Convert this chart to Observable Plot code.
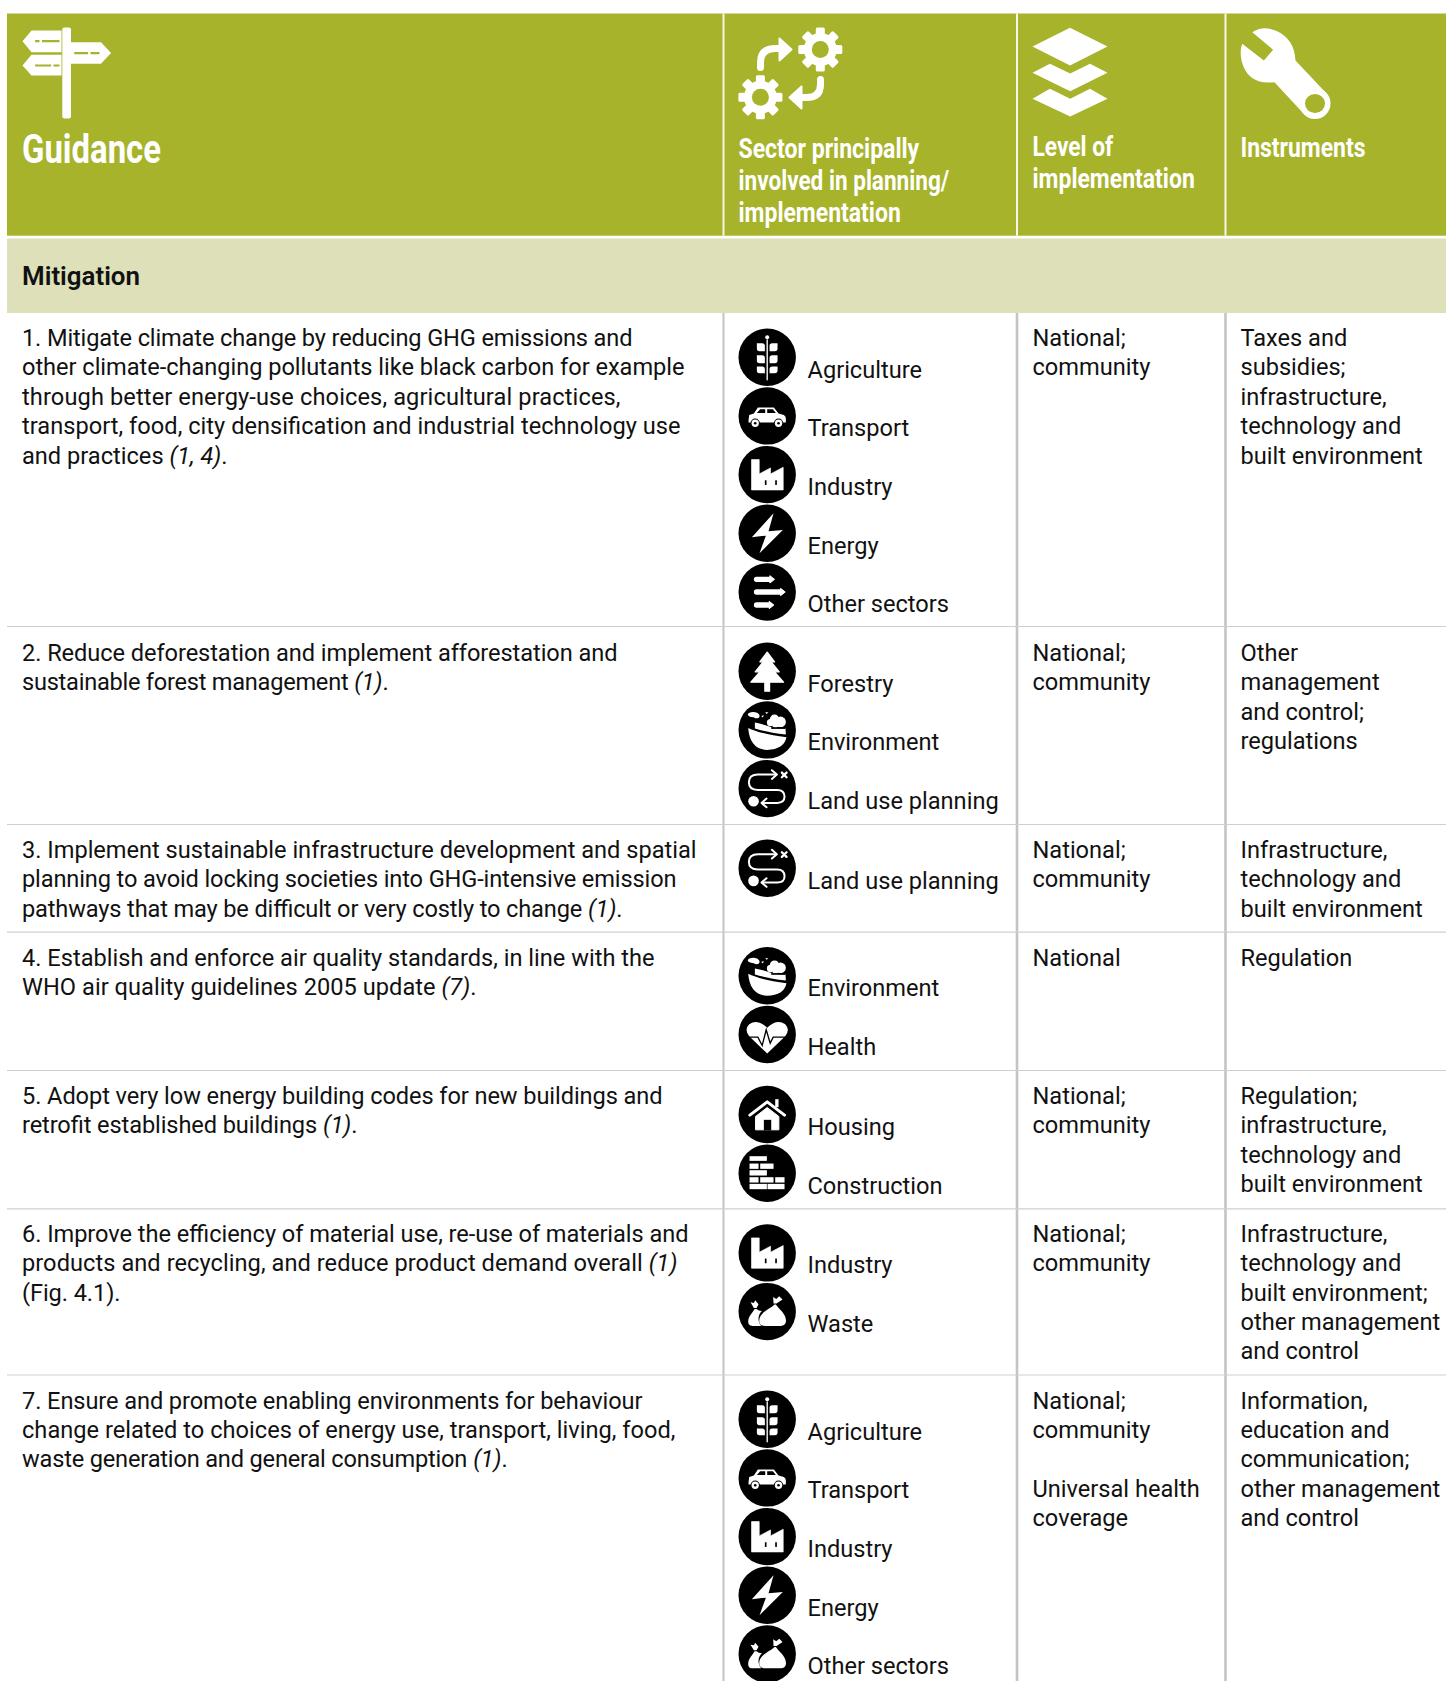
<!DOCTYPE html>
<html lang="en">
<head>
<meta charset="utf-8">
<title>Guidance: Mitigation</title>
<script src="https://cdn.jsdelivr.net/npm/d3@7"></script>
<script src="https://cdn.jsdelivr.net/npm/@observablehq/plot@0.6"></script>
<style>
html,body{margin:0;padding:0;background:#fff}
svg{display:block}
</style>
</head>
<body>
<div id="chart"></div>
<script>
// ---------- Table content ----------
const sectionTitle = "Mitigation";
const headerGuidance = ["Guidance"];
const headerSector = ["Sector principally", "involved in planning/", "implementation"];
const headerLevel = ["Level of", "implementation"];
const headerInstruments = ["Instruments"];

// *...* marks the italic citation inside a line
const guidance = [
  ["1. Mitigate climate change by reducing GHG emissions and",
   "other climate-changing pollutants like black carbon for example",
   "through better energy-use choices, agricultural practices,",
   "transport, food, city densification and industrial technology use",
   "and practices *(1, 4)*."],
  ["2. Reduce deforestation and implement afforestation and",
   "sustainable forest management *(1)*."],
  ["3. Implement sustainable infrastructure development and spatial",
   "planning to avoid locking societies into GHG-intensive emission",
   "pathways that may be difficult or very costly to change *(1)*."],
  ["4. Establish and enforce air quality standards, in line with the",
   "WHO air quality guidelines 2005 update *(7)*."],
  ["5. Adopt very low energy building codes for new buildings and",
   "retrofit established buildings *(1)*."],
  ["6. Improve the efficiency of material use, re-use of materials and",
   "products and recycling, and reduce product demand overall *(1)*",
   "(Fig. 4.1)."],
  ["7. Ensure and promote enabling environments for behaviour",
   "change related to choices of energy use, transport, living, food,",
   "waste generation and general consumption *(1)*."]
];
const sectors = [
  ["Agriculture", "Transport", "Industry", "Energy", "Other sectors"],
  ["Forestry", "Environment", "Land use planning"],
  ["Land use planning"],
  ["Environment", "Health"],
  ["Housing", "Construction"],
  ["Industry", "Waste"],
  ["Agriculture", "Transport", "Industry", "Energy", "Other sectors"]
];
const sectorIcons = [
  ["agriculture", "transport", "industry", "energy", "other"],
  ["forestry", "environment", "landuse"],
  ["landuse"],
  ["environment", "health"],
  ["housing", "construction"],
  ["industry", "waste"],
  ["agriculture", "transport", "industry", "energy", "waste"]
];
const levels = [
  ["National;", "community"],
  ["National;", "community"],
  ["National;", "community"],
  ["National"],
  ["National;", "community"],
  ["National;", "community"],
  ["National;", "community", "", "Universal health", "coverage"]
];
const instruments = [
  ["Taxes and", "subsidies;", "infrastructure,", "technology and", "built environment"],
  ["Other", "management", "and control;", "regulations"],
  ["Infrastructure,", "technology and", "built environment"],
  ["Regulation"],
  ["Regulation;", "infrastructure,", "technology and", "built environment"],
  ["Infrastructure,", "technology and", "built environment;", "other management", "and control"],
  ["Information,", "education and", "communication;", "other management", "and control"]
];

// ---------- Layout ----------
const W = 1446, H = 1681;
const left = 7;
const colEdges = [723, 1016.5, 1225];
const textX = [21.5, 738, 1032, 1240];
const headerTop = 13.5, headerBottom = 235.7, bandTop = 238.5, bandBottom = 313;
const rowTops = [313, 626, 824, 931.7, 1070, 1208.3, 1374.5];
const lineHeight = 29.35;
const rowBaselines = [345.6, 660.4, 857.5, 965.4, 1103.4, 1241.5, 1408.2];
const iconFirst = [356.7, 670.7, 867.7, 975.3, 1114, 1252.4, 1418.7];
const iconStep = 58.7, labelDrop = 20.3, labelX = 807, iconX = 766.7, iconR = 28.7;
// right-hand end of each guidance line, for fitting the substitute typeface to the original measure
const guidanceEnds = [
  [632, 684, 620, 680, 227],
  [617, 388],
  [696, 676, 622],
  [654, 476],
  [662, 357],
  [688, 677, 120],
  [642, 675, 507]
];
const headerWidths = [180.7, 210.7, 162.3, 80.7, 162.3, 125];
const olive = "#a7b32a", band = "#dde0b8", ink = "#111";
const bodyFont = "Roboto", bodySize = 23.6;
const headFont = "Roboto";

// ---------- Flatten table into mark data ----------
const measure = document.createElement("canvas").getContext("2d");
function widthOf(str, italic) {
  measure.font = `${italic ? "italic " : ""}${bodySize}px ${bodyFont}`;
  return measure.measureText(str).width;
}
const bodyRegular = [], bodyItalic = [];
guidance.forEach((lines, r) => lines.forEach((line, i) => {
  const segs = line.split("*");
  const natural = d3.sum(segs, (s, k) => widthOf(s, k % 2 === 1));
  const fit = (guidanceEnds[r][i] - textX[0]) / natural;
  let x = textX[0];
  segs.forEach((seg, k) => {
    const italic = k % 2 === 1;
    const y = rowBaselines[r] + i * lineHeight;
    const text = seg.trimEnd();
    if (text) (italic ? bodyItalic : bodyRegular).push({x, y, text, len: text.length > 1 ? widthOf(text, italic) * fit : null});
    x += widthOf(seg, italic) * fit;
  });
}));
[[levels, textX[2]], [instruments, textX[3]]].forEach(([col, x]) =>
  col.forEach((lines, r) => lines.forEach((text, i) => {
    if (text) bodyRegular.push({x, y: rowBaselines[r] + i * lineHeight, text, len: null});
  })));
const sectorRows = sectors.flatMap((list, r) => list.map((label, i) => ({
  label, icon: sectorIcons[r][i],
  cy: iconFirst[r] + i * iconStep,
  ly: iconFirst[r] + i * iconStep + labelDrop
})));

// ---------- Pictograms ----------
const uri = (vb, inner) => "data:image/svg+xml;utf8," + encodeURIComponent(
  `<svg xmlns="http://www.w3.org/2000/svg" viewBox="${vb}">${inner}</svg>`);
const wl = `fill="none" stroke="#fff" stroke-linecap="round" stroke-linejoin="round"`;
const leaves = [[-42,-18],[-6,18],[28,48]].map(([t,b]) => {
  const leaf = `M-31 ${t}L-15 ${t}Q-7 ${t} -7 ${t+8}L-7 ${b}L-23 ${b}Q-31 ${b} -31 ${b-8}Z`;
  return `<path fill="#fff" d="${leaf}"/><path fill="#fff" transform="scale(-1,1)" d="${leaf}"/>`;
}).join("");
const arrow = (y, x1) => `<path ${wl} stroke-width="16" d="M-32 ${y}L${x1} ${y}"/><path fill="#fff" stroke="#fff" stroke-width="3" stroke-linejoin="round" d="M${x1} ${y-11}L${x1+14} ${y}L${x1} ${y+11}Z"/>`;
const bricks = [[-53,-51,52,14],[-53,-29,27,16],[-21,-29,40,16],[-53,-9,52,16],[-53,12,27,16],[-21,12,40,16],[24,12,28,16],[-53,32,52,16],[1,32,51,16]]
  .map(([x,y,w,h]) => `<rect x="${x}" y="${y}" width="${w}" height="${h}" fill="#fff"/>`).join("");
const icons = {
  agriculture: `<path ${wl} stroke-width="4" d="M0 -52L0 68"/><circle cy="-60" r="6" fill="#fff"/>${leaves}`,
  transport: `<path fill="#fff" d="M-56 12L-54 -3L-40 -7L-28 -25L20 -25L34 -7L50 -3Q56 0 56 8L56 20L-56 20Z"/>
    <path d="M-31 -9L-21 -20L-6 -20L-6 -9ZM0 -20L17 -20L26 -9L0 -9Z"/>
    <circle cx="-36" cy="22" r="14"/><circle cx="34" cy="22" r="14"/>
    <circle cx="-36" cy="22" r="11" fill="#fff"/><circle cx="34" cy="22" r="11" fill="#fff"/>
    <circle cx="-36" cy="22" r="4"/><circle cx="34" cy="22" r="4"/>`,
  industry: `<path fill="#fff" stroke="#fff" stroke-width="2" stroke-linejoin="round" d="M-47 -45L-24 -45L-24 -2L10 -20L10 -2L48 -22L48 46L-47 46Z"/>
    <rect x="-7" y="17" width="5" height="14"/><rect x="24" y="17" width="5" height="14"/>`,
  energy: `<path fill="#fff" d="M19 -60L-46 12L-4 7L-23 60L47 -10L4 -6Z"/>`,
  other: arrow(-38, 8) + arrow(0, 40) + arrow(39, 6),
  forestry: `<path fill="#fff" stroke="#fff" stroke-width="4" stroke-linejoin="round" d="M0 -57L22 -28L12 -28L36 2L22 2L49 33L7 33L7 60L-7 60L-7 33L-49 33L-22 2L-36 2L-12 -28L-22 -28Z"/>`,
  environment: `<path fill="#fff" d="M-57 -6Q-20 12 58 22Q50 58 0 60Q-52 58 -57 -6Z"/>
    <path fill="#fff" d="M-37 -22Q-5 -16 18 -6L55 -4L56 14Q-5 6 -37 -4Z"/>
    <circle cx="10" cy="-22" r="11" fill="#fff"/><circle cx="22" cy="-32" r="14" fill="#fff"/><circle cx="40" cy="-24" r="16" fill="#fff"/><circle cx="25" cy="-16" r="10" fill="#fff"/>
    <rect x="12" y="-8" width="42" height="5"/>
    <ellipse cx="-42" cy="-46" rx="16" ry="8" fill="#fff"/><ellipse cx="-32" cy="-42" rx="9" ry="7" fill="#fff"/>
    <path fill="#fff" d="M-6 -53L4 -53L-2 -48ZM-18 -42L-10 -44L-13 -37Z"/>`,
  landuse: `<path ${wl} stroke-width="6" d="M26 -42L-28 -42Q-55 -42 -55 -19Q-55 4 -28 4L30 4Q52 4 52 24Q52 43 30 43L-15 43"/>
    <path ${wl} stroke-width="6" d="M14 -55L29 -42L14 -29M-2 30L-17 43L-2 56"/>
    <circle cx="-41" cy="38" r="16" fill="#fff"/>
    <path ${wl} stroke-width="7" d="M44 -48L58 -34M58 -48L44 -34"/>`,
  health: `<path fill="#fff" d="M0 57L-54 5Q-70 -15 -54 -31Q-28 -48 0 -20Q28 -48 54 -31Q70 -15 54 5Z"/>
    <path fill="none" stroke="#000" stroke-width="4" stroke-linejoin="miter" d="M-58 8L-28 8L-15 33L-3 -14L9 26L18 8L60 8"/>`,
  housing: `<path ${wl} stroke-width="9" d="M-52 2L0 -38L52 2"/><rect x="24" y="-46" width="10" height="24" fill="#fff"/>
    <path fill="#fff" stroke="#fff" stroke-width="3" stroke-linejoin="round" d="M-35 6L0 -21L35 6L35 46L-35 46Z"/><rect x="-10" y="16" width="22" height="32"/>`,
  construction: bricks,
  waste: `<path fill="#fff" d="M-38 -8C-44 4 -58 14 -57 32C-56 42 -48 43 -42 43L-18 43C-30 30 -28 8 -16 -2Q-26 -2 -32 -8Z"/>
    <path fill="#fff" d="M-40 -11L-50 -28L-40 -26L-36 -34L-26 -22L-32 -11Z"/>
    <path fill="#fff" d="M22 -21C10 -8 -24 2 -24 28C-24 40 -14 43 -6 43L40 43C52 43 58 36 56 24C54 4 34 -8 26 -21Z"/>
    <path fill="#fff" d="M19 -24L18 -44L27 -38L36 -46L46 -36L28 -24Z"/>`
};
const iconSrc = Object.fromEntries(Object.entries(icons).map(([k, v]) => [k, uri("-90 -90 180 180", v)]));

// Header pictograms, white on olive
const gear = (cx, cy) => {
  let t = "";
  for (let i = 0; i < 8; i++)
    t += `<rect x="${cx-4.5}" y="${cy-22}" width="9" height="12" rx="1.5" fill="#fff" transform="rotate(${i*45} ${cx} ${cy})"/>`;
  return t + `<circle cx="${cx}" cy="${cy}" r="16.5" fill="#fff"/><circle cx="${cx}" cy="${cy}" r="8.5" fill="${olive}"/>`;
};
const ds = `stroke="${olive}" stroke-width="2.2"`;
const headerGlyphs = [
  {box: [20, 25, 92, 95], inner: `<rect x="61.8" y="27" width="8.7" height="91" rx="2" fill="#fff"/>
    <path fill="#fff" d="M61 30L31 30L22 40.7L31 51.7L61 51.7ZM70 41.7L100.5 41.7L110.6 52.5L100.5 63.3L70 63.3ZM61 54.3L31 54.3L22 65L31 75L61 75Z"/>
    <path ${ds} d="M34.6 40.7L39 40.7M41.5 40.7L59 40.7M73.8 52.7L87.6 52.7M90 52.7L99 52.7M34.6 65L50.7 65M53 65L59 65"/>`},
  {box: [735, 25, 110, 95], inner: gear(819.8, 49) + gear(759.9, 96.7) +
    `<path ${wl} stroke-width="7" d="M760 67L760 62Q760 48 775 48L780 48M820 79L820 84Q820 97 806 97L800 97"/>
     <path fill="#fff" stroke="#fff" stroke-width="2" stroke-linejoin="round" d="M779 38L791 49L779 60ZM801 86L789 97L801 108Z"/>`},
  {box: [1030, 25, 80, 95], inner: `<path fill="#fff" d="M1032 46L1069.5 27.3L1107 46L1069.5 65Z
    M1032 72.3L1049.4 63.3L1069.7 73L1089.5 63.3L1107 72.3L1069.7 90.7Z
    M1032 98.3L1049.4 88.3L1069.7 98.3L1089.5 88.3L1107 98.3L1069.7 116Z"/>`},
  {box: [1235, 25, 100, 100], inner: `<path fill="#fff" d="M1251.8 31.7Q1262 25 1275 30Q1294 38 1295 60L1327 94L1303 113L1274 81.7Q1247 85 1241 60Q1239 50 1241.7 43.3L1263.4 60L1272.6 49.3Z"/>
    <circle cx="1314.5" cy="103" r="15.5" fill="#fff"/><ellipse cx="1314.5" cy="103" rx="10" ry="9.5" fill="${olive}"/>`}
].map(({box: [x, y, w, h], inner}) => ({x: x + w / 2, y: y + h / 2, w, h, src: uri(`${x} ${y} ${w} ${h}`, inner)}));

// ---------- Header text ----------
const headLines = (lines, x, y0, step) => lines.map((text, i) => ({text, x, y: y0 + i * step}));
const head = [
  ...headLines(headerSector, textX[1], 157, 32.3),
  ...headLines(headerLevel, textX[2], 155.5, 32),
  ...headLines(headerInstruments, textX[3], 156.7, 32)
].map((d, i) => ({...d, len: headerWidths[i]}));

const anchor = {textAnchor: "start", lineAnchor: "bottom"};
const chart = Plot.plot({
  width: W, height: H, margin: 0,
  x: {domain: [0, W], range: [0, W], axis: null},
  y: {domain: [0, H], range: [0, H], axis: null},
  style: {background: "#fff"},
  marks: [
    Plot.rectY([{x1: left, x2: W, y1: headerTop, y2: headerBottom}], {x1: "x1", x2: "x2", y1: "y1", y2: "y2", fill: olive}),
    Plot.rectY([{x1: left, x2: W, y1: bandTop, y2: bandBottom}], {x1: "x1", x2: "x2", y1: "y1", y2: "y2", fill: band}),
    Plot.ruleX(colEdges, {x: d => d, y1: headerTop, y2: headerBottom, stroke: "#f4f6ea", strokeWidth: 2}),
    Plot.ruleX(colEdges, {x: d => d, y1: bandBottom, y2: H, stroke: "#c4c4c4", strokeWidth: d => d === 723 ? 2 : 2.6}),
    Plot.ruleY(rowTops.slice(1), {y: d => d, x1: left, x2: W, stroke: "#cfcfcf", strokeWidth: 1.2}),
    Plot.image(headerGlyphs, {x: "x", y: "y", width: "w", height: "h", src: "src"}),
    Plot.text(headerGuidance, {...anchor, x: textX[0], y: 162.7, text: d => d, fontFamily: headFont, fontSize: 41, fill: "#fff", fontWeight: 700}),
    Plot.text(head, {...anchor, x: "x", y: "y", text: "text", fontFamily: headFont, fontSize: 28.5, fill: "#fff", fontWeight: 700}),
    Plot.text([sectionTitle], {...anchor, x: textX[0], y: 284.3, text: d => d, fontFamily: bodyFont, fontSize: 25.5, fontWeight: 600, fill: ink}),
    Plot.text(bodyRegular, {...anchor, x: "x", y: "y", text: "text", fontFamily: bodyFont, fontSize: bodySize, fill: ink}),
    Plot.text(bodyItalic, {...anchor, x: "x", y: "y", text: "text", fontFamily: bodyFont, fontSize: bodySize, fontStyle: "italic", fill: ink}),
    Plot.dot(sectorRows, {x: iconX, y: "cy", r: iconR, fill: "#000"}),
    Plot.image(sectorRows, {x: iconX, y: "cy", width: 60, height: 60, src: d => iconSrc[d.icon]}),
    Plot.text(sectorRows, {...anchor, x: labelX, y: "ly", text: "label", fontFamily: bodyFont, fontSize: bodySize, fill: ink})
  ]
});
// The original set is condensed and has other metrics: fit each run of text to its measured length.
const textGroups = chart.querySelectorAll('g[aria-label="text"]');
function fitText(group, lengths, adjust) {
  group.querySelectorAll("text").forEach((node, i) => {
    if (lengths[i] == null) return;
    node.setAttribute("textLength", lengths[i]);
    node.setAttribute("lengthAdjust", adjust);
  });
}
fitText(textGroups[0], [139], "spacingAndGlyphs");
fitText(textGroups[1], head.map(d => d.len), "spacingAndGlyphs");
fitText(textGroups[2], [118], "spacingAndGlyphs");
fitText(textGroups[3], bodyRegular.map(d => d.len), "spacing");
fitText(textGroups[4], bodyItalic.map(d => d.len), "spacing");
document.getElementById("chart").append(chart);
</script>
</body>
</html>
